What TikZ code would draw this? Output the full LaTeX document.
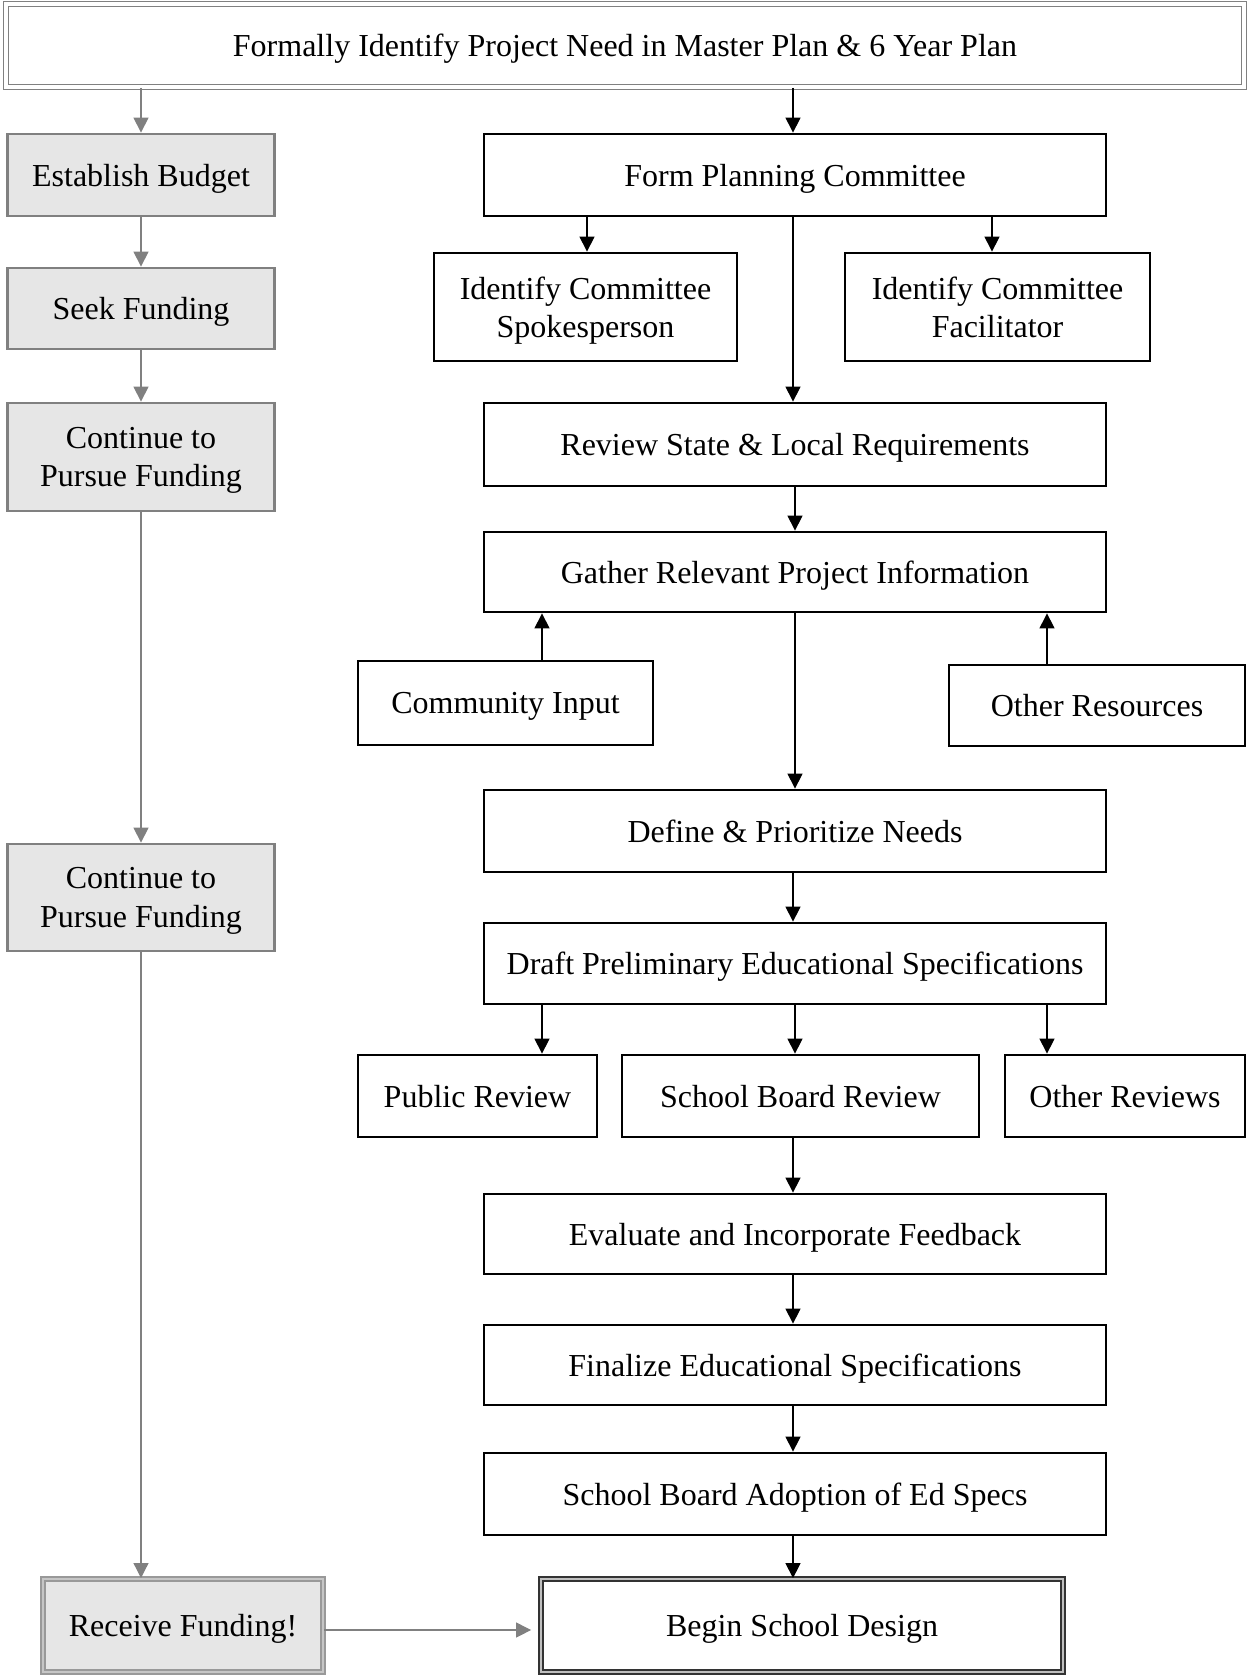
\documentclass[tikz,border=0pt]{standalone}
\usepackage{fontspec}
\setmainfont{Liberation Serif}
\usetikzlibrary{arrows.meta}
\definecolor{linegray}{HTML}{808080}
\definecolor{fillgray}{HTML}{E6E6E6}
\begin{document}
\begin{tikzpicture}[x=0.5pt,y=-0.5pt,
  every node/.style={inner sep=0pt, align=center, text depth=0pt, font=\fontsize{16}{19.2}\selectfont},
  bbox/.style={draw=black, line width=1.4pt, fill=white},
  gbox/.style={draw=linegray, line width=1.4pt, fill=fillgray},
  topbox/.style={draw=linegray, line width=0.9pt, double=white, double distance=1.6pt},
  recbox/.style={draw=linegray!80, line width=1pt, double=linegray!45, double distance=1.4pt, fill=fillgray},
  begbox/.style={draw=black!80, line width=0.9pt, double=linegray!50, double distance=1.2pt},
  arr/.style={-{Triangle[length=7.5pt,width=7.5pt]}, line width=0.6pt, black},
  garr/.style={-{Triangle[length=7.5pt,width=7.5pt]}, line width=0.6pt, linegray}]
\useasboundingbox (0,0) rectangle (1247,1675);
% left column
\node[topbox, minimum width=619pt, minimum height=41.5pt] (top) at (625,45.5) {Formally Identify Project Need in Master Plan \& 6 Year Plan};
\node[gbox, minimum width=133.75pt, minimum height=41pt] (budget) at (141,175) {Establish Budget};
\node[gbox, minimum width=133.75pt, minimum height=40.5pt] (seek) at (141,308.5) {Seek Funding};
\node[gbox, minimum width=133.75pt, minimum height=54pt] (cont1) at (141,457) {Continue to\\Pursue Funding};
\node[gbox, minimum width=133.75pt, minimum height=53.5pt] (cont2) at (141,897.5) {Continue to\\Pursue Funding};
\node[recbox, minimum width=140pt, minimum height=46.5pt] (receive) at (183,1625.5) {Receive Funding!};
% right column
\node[bbox, minimum width=311pt, minimum height=41pt] (form) at (795,175) {Form Planning Committee};
\node[bbox, minimum width=151.5pt, minimum height=54pt] (spokes) at (585.5,307) {Identify Committee\\Spokesperson};
\node[bbox, minimum width=152.5pt, minimum height=54pt] (facil) at (997.5,307) {Identify Committee\\Facilitator};
\node[bbox, minimum width=311pt, minimum height=41.5pt] (review) at (795,444.5) {Review State \& Local Requirements};
\node[bbox, minimum width=311pt, minimum height=40pt] (gather) at (795,572) {Gather Relevant Project Information};
\node[bbox, minimum width=147.5pt, minimum height=42pt] (community) at (505.5,703) {Community Input};
\node[bbox, minimum width=148pt, minimum height=40.5pt] (otherres) at (1097,705.5) {Other Resources};
\node[bbox, minimum width=311pt, minimum height=41pt] (define) at (795,831) {Define \& Prioritize Needs};
\node[bbox, minimum width=311pt, minimum height=40.5pt] (draft) at (795,963.5) {Draft Preliminary Educational Specifications};
\node[bbox, minimum width=119.5pt, minimum height=41pt] (public) at (477.5,1096) {Public Review};
\node[bbox, minimum width=178.5pt, minimum height=41pt] (sbr) at (800.5,1096) {School Board Review};
\node[bbox, minimum width=120pt, minimum height=41pt] (otherrev) at (1125,1096) {Other Reviews};
\node[bbox, minimum width=311pt, minimum height=40pt] (evaluate) at (795,1234) {Evaluate and Incorporate Feedback};
\node[bbox, minimum width=311pt, minimum height=40pt] (finalize) at (795,1365) {Finalize Educational Specifications};
\node[bbox, minimum width=311pt, minimum height=41pt] (adopt) at (795,1494) {School Board Adoption of Ed Specs};
\node[begbox, minimum width=261pt, minimum height=46.5pt] (begin) at (802,1625.5) {Begin School Design};
% positions for connectors
\coordinate (xL) at (141,0);
\coordinate (xM) at (793,0);
\coordinate (xM2) at (795,0);
\coordinate (xA) at (587,0);
\coordinate (xB) at (992,0);
\coordinate (xC) at (542,0);
\coordinate (xD) at (1047,0);
\coordinate (yR) at (0,1630);
% left connectors
\draw[garr] (top.south -| xL) -- (budget.north -| xL);
\draw[garr] (budget) -- (seek);
\draw[garr] (seek) -- (cont1);
\draw[garr] (cont1) -- (cont2);
\draw[garr] (cont2.south -| xL) -- (receive.north -| xL);
\draw[garr, shorten >=4.5pt] (receive.east |- yR) -- (begin.west |- yR);
% right connectors
\draw[arr] (top.south -| xM) -- (form.north -| xM);
\draw[arr] (form.south -| xA) -- (spokes.north -| xA);
\draw[arr] (form.south -| xB) -- (facil.north -| xB);
\draw[arr] (form.south -| xM) -- (review.north -| xM);
\draw[arr] (review.south -| xM2) -- (gather.north -| xM2);
\draw[arr] (community.north -| xC) -- (gather.south -| xC);
\draw[arr] (otherres.north -| xD) -- (gather.south -| xD);
\draw[arr] (gather.south -| xM2) -- (define.north -| xM2);
\draw[arr] (define.south -| xM) -- (draft.north -| xM);
\draw[arr] (draft.south -| xC) -- (public.north -| xC);
\draw[arr] (draft.south -| xM2) -- (sbr.north -| xM2);
\draw[arr] (draft.south -| xD) -- (otherrev.north -| xD);
\draw[arr] (sbr.south -| xM) -- (evaluate.north -| xM);
\draw[arr] (evaluate.south -| xM) -- (finalize.north -| xM);
\draw[arr] (finalize.south -| xM) -- (adopt.north -| xM);
\draw[arr] (adopt.south -| xM) -- (begin.north -| xM);
\end{tikzpicture}
\end{document}
